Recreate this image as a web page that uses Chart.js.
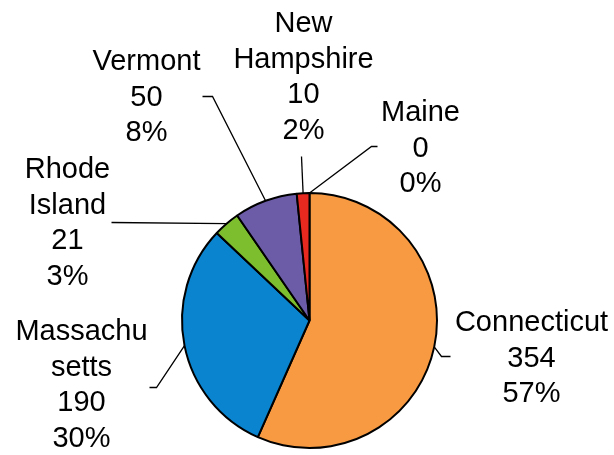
<!DOCTYPE html>
<html>
<head>
<meta charset="utf-8">
<script src="https://cdn.jsdelivr.net/npm/chart.js@4.4.1/dist/chart.umd.min.js"></script>
<style>
  html, body { margin: 0; padding: 0; background: #fff; }
  #wrap { width: 614px; height: 455px; position: relative; }
</style>
</head>
<body>
<div id="wrap"><canvas id="pieStates"></canvas></div>
<script>
// Données par État
const states = ['Connecticut', 'Massachusetts', 'Rhode Island', 'Vermont', 'New Hampshire', 'Maine'];
const counts = [354, 190, 21, 50, 10, 0];
// Nom affiché, coupé comme dans l'étiquette
const stateLines = [['Connecticut'], ['Massachu', 'setts'], ['Rhode', 'Island'], ['Vermont'], ['New', 'Hampshire'], ['Maine']];
const sliceColors = ['#F79A42', '#0A84CF', '#7DBE2E', '#6C5CA8', '#E8291F', '#4BACC6'];

// Placement des étiquettes (relatif au centre du camembert) et des traits de rappel
const labelLayout = [
    { text: [222, 38],   leader: [[132, 36], [141, 36]] },
    { text: [-228, 65],  leader: [[-153, 67], [-160, 67]] },
    { text: [-242, -97], leader: [[-198, -98]] },
    { text: [-163, -223], leader: [[-97, -224], [-107, -224]] },
    { text: [-6, -243],  leader: [[-8, -164]] },
    { text: [111, -172], leader: [[62, -174], [68, -174]] }
];

const outsideLabels = {
    id: 'outsideLabels',
    afterDatasetsDraw(chart) {
        const ctx = chart.ctx;
        const meta = chart.getDatasetMeta(0);
        const data = chart.data.datasets[0].data;
        const total = data.reduce((a, b) => a + b, 0);
        const lineH = 35.5;

        ctx.save();
        meta.data.forEach((arc, i) => {
            const { x: cx, y: cy, startAngle, endAngle, outerRadius } = arc.getProps(['x', 'y', 'startAngle', 'endAngle', 'outerRadius'], true);
            const mid = (startAngle + endAngle) / 2;
            const lay = labelLayout[i];

            // trait de rappel depuis le bord de la part
            ctx.beginPath();
            ctx.moveTo(cx + Math.cos(mid) * outerRadius, cy + Math.sin(mid) * outerRadius);
            lay.leader.forEach(p => ctx.lineTo(cx + p[0], cy + p[1]));
            ctx.strokeStyle = '#000';
            ctx.lineWidth = 1.3;
            ctx.stroke();

            // texte : nom, valeur, pourcentage
            const pct = total > 0 ? Math.round(data[i] / total * 100) : 0;
            const lines = stateLines[i].concat([String(data[i]), pct + '%']);
            ctx.font = "29px 'Liberation Sans', Arial, sans-serif";
            ctx.fillStyle = '#000';
            ctx.textAlign = 'center';
            ctx.textBaseline = 'middle';
            const top = cy + lay.text[1] - (lines.length - 1) * lineH / 2;
            lines.forEach((t, k) => ctx.fillText(t, cx + lay.text[0], top + k * lineH));
        });
        ctx.restore();
    }
};

const ctx = document.getElementById('pieStates').getContext('2d');
window.myChart = new Chart(ctx, {
    type: 'pie',
    data: {
        labels: states,
        datasets: [{
            data: counts,
            backgroundColor: sliceColors,
            borderWidth: 2,
            borderColor: '#000'
        }]
    },
    options: {
        responsive: true,
        maintainAspectRatio: false,
        animation: false,
        layout: { padding: { left: 181, right: 176, top: 192, bottom: 6 } },
        plugins: {
            legend: { display: false },
            tooltip: { enabled: false }
        }
    },
    plugins: [outsideLabels]
});
</script>
</body>
</html>
